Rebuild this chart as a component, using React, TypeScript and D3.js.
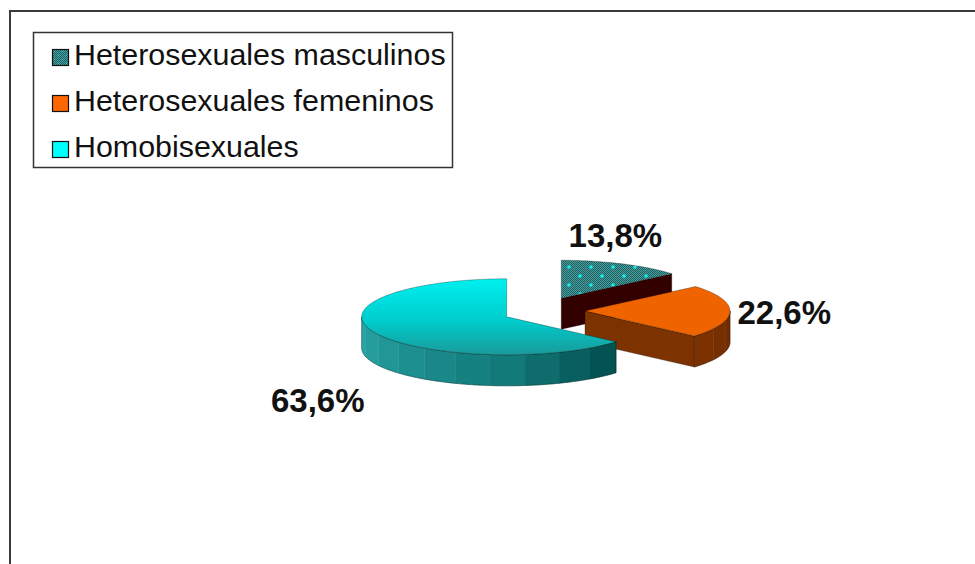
import React from 'react';
import * as d3 from 'd3';

const categories = ['Heterosexuales masculinos', 'Heterosexuales femeninos', 'Homobisexuales'];
const values = [13.8, 22.6, 63.6];
const valueLabels = ['13,8%', '22,6%', '63,6%'];

const W = 975;
const H = 564;
// pie geometry (3D ellipse)
const CX = 544;
const CY = 311;
const RX = 145;
const RY = 38;
const DEPTH = 31;
const EX = 41; // explosion, horizontal
const EY = 14; // explosion, vertical
const LX = 199; // label radius, horizontal
const LY = 70; // label radius, vertical
const LABEL_FS = 33;
const LEGEND_FS = 30.4;

type P = [number, number];

function pt(cx: number, cy: number, th: number, dy = 0): P {
  return [cx + RX * Math.sin(th), cy - RY * Math.cos(th) + dy];
}
function arcPts(cx: number, cy: number, a: number, b: number, dy = 0): P[] {
  const n = Math.max(2, Math.ceil(Math.abs(b - a) / (Math.PI / 180)));
  return d3.range(n + 1).map((i) => pt(cx, cy, a + ((b - a) * i) / n, dy));
}

const lineGen = d3.line();
const closed = (pts: P[]) => (lineGen(pts as any) || '') + 'Z';

export default function App() {
  const arcs = d3.pie<number>().sort(null).value((d) => d)(values);

  const tealWall = d3
    .scaleLinear<string>()
    .domain([0.2, 0.5, 1])
    .range(['#004646', '#137a7a', '#2aa8a8'])
    .interpolate(d3.interpolateRgb)
    .clamp(true);
  const brownWall = d3
    .scaleLinear<string>()
    .domain([0, 0.25])
    .range(['#6e2c00', '#7f3300'])
    .interpolate(d3.interpolateRgb)
    .clamp(true);
  const darkWall = d3.interpolateRgb('#220000', '#440000');
  const palettes = [
    { top: 'url(#dotPat)', face: '#330000', wall: darkWall },
    { top: '#f06400', face: '#7d3300', wall: brownWall },
    { top: 'url(#tealTop)', face: '#0c6a6a', wall: tealWall },
  ];
  const swatches = ['url(#swPat)', '#ff6600', '#00ffff'];

  const slices = arcs.map((p, i) => {
    const a = p.startAngle;
    const b = p.endAngle;
    const m = (a + b) / 2;
    const ax = CX + EX * Math.sin(m);
    const ay = CY - EY * Math.cos(m);
    const pal = palettes[i];
    const faces: { d: string; fill: string }[] = [];
    // radial cut faces
    if (Math.sin(a) < -1e-6) {
      const [x, y] = pt(ax, ay, a);
      faces.push({ d: closed([[ax, ay], [x, y], [x, y + DEPTH], [ax, ay + DEPTH]]), fill: pal.face });
    }
    if (Math.sin(b) > 1e-6) {
      const [x, y] = pt(ax, ay, b);
      faces.push({ d: closed([[ax, ay], [x, y], [x, y + DEPTH], [ax, ay + DEPTH]]), fill: pal.face });
    }
    // outer wall (front half only), in bands
    const w0 = Math.max(a, Math.PI / 2);
    const w1 = Math.min(b, (3 * Math.PI) / 2);
    const walls: { d: string; fill: string }[] = [];
    if (w1 > w0) {
      const step = (14 * Math.PI) / 180;
      const nb = Math.max(1, Math.ceil((w1 - w0) / step));
      for (let k = 0; k < nb; k++) {
        const s0 = w0 + ((w1 - w0) * k) / nb;
        const s1 = w0 + ((w1 - w0) * (k + 1)) / nb;
        const t = ((s0 + s1) / 2 - Math.PI / 2) / Math.PI;
        const top = arcPts(ax, ay, s0, s1);
        const bot = arcPts(ax, ay, s1, s0, DEPTH);
        walls.push({ d: closed([...top, ...bot]), fill: pal.wall(t) });
      }
    }
    const wallOutline =
      w1 > w0 ? closed([...arcPts(ax, ay, w0, w1), ...arcPts(ax, ay, w1, w0, DEPTH)]) : null;
    const topD = closed([[ax, ay], ...arcPts(ax, ay, a, b)]);
    // label: outside the slice, below the wall for front slices
    const s = Math.sin(m);
    const c = -Math.cos(m);
    const front = Math.max(0, Math.min(1, c / 0.4));
    const lx = ax + LX * s * Math.sqrt(Math.abs(s)) + LABEL_FS * 1.3 * s * Math.max(0, c);
    const ly = ay + LY * c + (DEPTH + LABEL_FS * 0.72) * front;
    return { i, ay, faces, walls, wallOutline, topD, top: pal.top, lx, ly };
  });

  const order = [...slices].sort((p, q) => p.ay - q.ay);
  const edge = { stroke: 'rgba(0,0,0,0.4)', strokeWidth: 0.7 };

  return (
    <svg
      width={W}
      height={H}
      viewBox={`0 0 ${W} ${H}`}
      style={{ position: 'absolute', left: 0, top: 0, background: '#fff' }}
    >
      <defs>
        <pattern id="dither" width="2" height="2" patternUnits="userSpaceOnUse">
          <rect width="2" height="2" fill="#245e5e" />
          <rect x="0" y="0" width="1" height="1" fill="#44a0a0" />
          <rect x="1" y="1" width="1" height="1" fill="#44a0a0" />
        </pattern>
        <pattern id="dotPat" width="22" height="18" patternUnits="userSpaceOnUse" x="3" y="2">
          <rect width="22" height="18" fill="url(#dither)" />
          <circle cx="5" cy="4" r="1.8" fill="#10f0f0" />
          <circle cx="16" cy="13" r="1.8" fill="#10f0f0" />
        </pattern>
        <pattern id="swPat" width="8" height="8" patternUnits="userSpaceOnUse" x="52" y="49">
          <rect width="8" height="8" fill="url(#dither)" />
          <rect x="2" y="2" width="1" height="1" fill="#00ffff" />
          <rect x="6" y="6" width="1" height="1" fill="#00ffff" />
        </pattern>
        <linearGradient id="tealTop" x1="0" y1="0" x2="0" y2="1">
          <stop offset="0" stopColor="#00f0f0" />
          <stop offset="0.55" stopColor="#00cccc" />
          <stop offset="1" stopColor="#1a9a9a" />
        </linearGradient>
      </defs>

      {/* outer frame */}
      <rect x={10} y={11} width={1200} height={1200} fill="none" stroke="#3a3a3a" strokeWidth={2} />

      {/* legend */}
      <rect x={33.5} y={32.5} width={419} height={135} fill="#fff" stroke="#333" strokeWidth={1.5} />
      {categories.map((name, i) => (
        <g key={name}>
          <rect
            x={52.5}
            y={49.5 + i * 46}
            width={16}
            height={16}
            fill={swatches[i]}
            stroke="#111"
            strokeWidth={1.2}
          />
          <text
            x={74}
            y={65 + i * 46}
            fontFamily="'Liberation Sans', Arial, sans-serif"
            fontSize={LEGEND_FS}
            fill="#111"
          >
            {name}
          </text>
        </g>
      ))}

      {/* 3D exploded pie */}
      {order.map((sl) => (
        <g key={sl.i}>
          {sl.faces.map((f, k) => (
            <path key={'f' + k} d={f.d} fill={f.fill} {...edge} />
          ))}
          {sl.walls.map((w, k) => (
            <path key={'w' + k} d={w.d} fill={w.fill} stroke={w.fill} strokeWidth={0.5} />
          ))}
          {sl.wallOutline && <path d={sl.wallOutline} fill="none" {...edge} />}
          <path d={sl.topD} fill={sl.top} {...edge} />
        </g>
      ))}

      {/* value labels */}
      {slices.map((sl) => (
        <text
          key={'l' + sl.i}
          x={sl.lx}
          y={sl.ly + LABEL_FS * 0.36}
          textAnchor="middle"
          fontFamily="'Liberation Sans', Arial, sans-serif"
          fontWeight="bold"
          fontSize={LABEL_FS}
          fill="#111"
        >
          {valueLabels[sl.i]}
        </text>
      ))}
    </svg>
  );
}
